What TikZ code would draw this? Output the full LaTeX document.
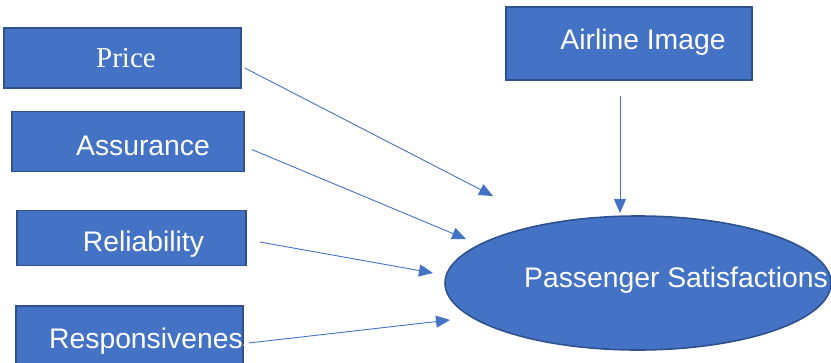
\documentclass[tikz,border=0pt]{standalone}
\usepackage{fontspec}
\setmainfont{Liberation Sans}
\newfontfamily\romfont{Liberation Serif}
\usetikzlibrary{arrows.meta,positioning,calc,shapes.geometric}
\definecolor{azul}{HTML}{4472C4}
\definecolor{borde}{HTML}{2F528F}

\begin{document}
\begin{tikzpicture}[x=1pt,y=-1pt,
  caja/.style={draw=borde,line width=1.6pt,fill=azul,rectangle,inner sep=0pt},
  lab/.style={draw=none,fill=none,text=white,inner sep=0pt,font=\fontsize{28.3}{31}\selectfont},
  flecha/.style={azul,line width=0.9pt,-{Triangle[length=14pt,width=12pt]}}]
  \useasboundingbox (0,0) rectangle (831,362);
  \clip (0,0) rectangle (831,362);
  % cajas de la izquierda
  \node[caja,minimum width=237pt,minimum height=60pt] (price) at (122.5,58) {};
  \node[lab,font=\romfont\fontsize{29}{32}\selectfont] (tprice) at (126,58) {Price};
  \node[caja,minimum width=232pt,minimum height=60pt] (assur) at (128,141.5) {};
  \node[lab] (tassur) at (143,146) {Assurance};
  \node[caja,minimum width=229pt,minimum height=55pt] (relia) at (131.5,238) {};
  \node[lab] (trelia) at (143.5,244) {Reliability};
  \node[caja,minimum width=227pt,minimum height=60pt] (respo) at (129.5,336) {};
  \node[lab,anchor=west] (trespo) at (49,341) {Responsiveness};
  % arriba y elipse
  \node[caja,minimum width=246pt,minimum height=73pt] (img) at (629,43.5) {};
  \node[lab] (timg) at (643,42) {Airline Image};
  \node[caja,ellipse,minimum width=386pt,minimum height=134pt] (pasaj) at (638,283) {};
  \node[lab] (tpasaj) at (676,280) {Passenger Satisfactions};
  % extremos de las flechas
  \coordinate (e1) at (493,196);
  \coordinate (e2) at (466,239);
  \coordinate (e3) at (433,273);
  \coordinate (e4) at (450,320);
  \coordinate (e5) at (620,213);
  \draw[flecha] ([xshift=3pt,yshift=-10pt]price.east) -- (e1);
  \draw[flecha] ([xshift=7pt,yshift=-8pt]assur.east) -- (e2);
  \draw[flecha] ([xshift=13pt,yshift=-4pt]relia.east) -- (e3);
  \draw[flecha] ([xshift=5pt,yshift=-7pt]respo.east) -- (e4);
  \draw[flecha] ([xshift=-9pt,yshift=-15pt]img.south) -- (e5);
\end{tikzpicture}
\end{document}
